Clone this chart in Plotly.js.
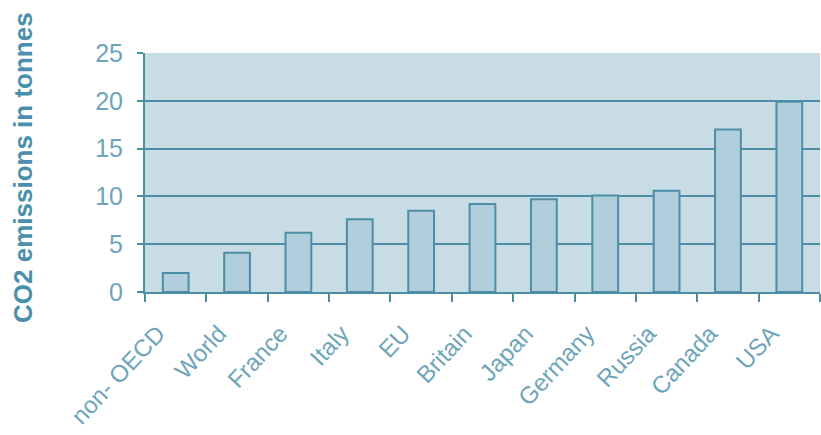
<!DOCTYPE html>
<html><head><meta charset="utf-8">
<script src="https://cdn.plot.ly/plotly-3.0.1.min.js"></script>
<style>html,body{margin:0;padding:0;background:#fff}#chart{width:821px;height:435px}</style>
</head><body><div id="chart"></div>
<script>
const categories = ["non- OECD","World","France","Italy","EU","Britain","Japan","Germany","Russia","Canada","USA"];
const emissions = [2.0, 4.1, 6.2, 7.6, 8.5, 9.2, 9.7, 10.1, 10.6, 17.0, 19.9];
const yTicks = [0, 5, 10, 15, 20, 25];
const yTitle = "CO2 emissions in tonnes";

const lineCol = "#4d8ea7";
const textCol = "#6ea5ba";

const trace = {
  type: "bar", x: categories, y: emissions, width: 0.42,
  marker: {color: "#b1cedc", line: {color: lineCol, width: 2}},
  hoverinfo: "skip"
};
const layout = {
  width: 821, height: 435,
  margin: {l: 145, r: 1, t: 53, b: 143},
  paper_bgcolor: "#ffffff", plot_bgcolor: "#c8dce6",
  showlegend: false, bargap: 0.58,
  font: {family: "Liberation Sans, Arial, sans-serif", color: textCol},
  xaxis: {
    type: "category", range: [-0.5, 10.5], tickson: "boundaries",
    showline: true, linecolor: lineCol, linewidth: 2,
    ticks: "outside", ticklen: 8, tickwidth: 2, tickcolor: lineCol,
    tickangle: -47, ticklabelstandoff: 16, ticklabelshift: -18,
    tickfont: {size: 24, color: textCol}, showgrid: false, zeroline: false
  },
  yaxis: {
    range: [0, 25], tickvals: yTicks, ticktext: yTicks.map(String),
    showline: true, linecolor: lineCol, linewidth: 2,
    ticks: "outside", ticklen: 6, tickwidth: 2, tickcolor: lineCol,
    ticklabelstandoff: 9,
    showgrid: true, gridcolor: lineCol, gridwidth: 2, zeroline: false,
    tickfont: {size: 25, color: textCol}
  },
  annotations: [{
    text: "<b>" + yTitle + "</b>", xref: "paper", yref: "paper",
    x: (23 - 145) / 675, y: (292 - 168) / 239, xanchor: "center", yanchor: "middle",
    textangle: -90, showarrow: false, font: {size: 26, color: "#4a8fab"}
  }]
};
Plotly.newPlot("chart", [trace], layout, {displayModeBar: false, staticPlot: true});
</script></body></html>
